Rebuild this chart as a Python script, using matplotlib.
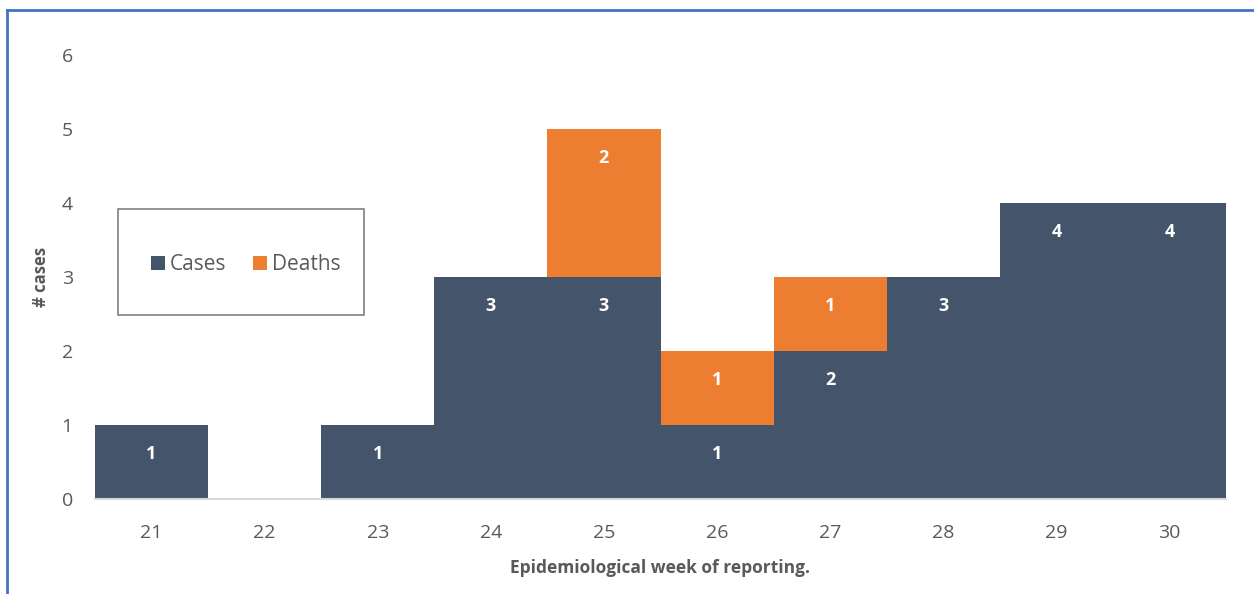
import matplotlib
matplotlib.use("Agg")
import matplotlib.pyplot as plt
from matplotlib.lines import Line2D
from matplotlib.patches import Rectangle

plt.rcParams['font.family'] = ['Open Sans', 'DejaVu Sans']

weeks = [21, 22, 23, 24, 25, 26, 27, 28, 29, 30]
cases = [1, 0, 1, 3, 3, 1, 2, 3, 4, 4]
deaths = [0, 0, 0, 0, 2, 1, 1, 0, 0, 0]
yticks = [0, 1, 2, 3, 4, 5, 6]

case_color = "#44546A"
death_color = "#ED7D31"
text_color = "#595959"

W, H = 1254, 594
fig = plt.figure(figsize=(W / 100, H / 100), dpi=100)
ax = fig.add_axes([95 / W, 1 - 499 / H, (1226 - 95) / W, (499 - 55) / H])

ax.bar(weeks, cases, width=1.0, color=case_color, edgecolor="none", label="Cases")
ax.bar(weeks, deaths, width=1.0, bottom=cases, color=death_color,
       edgecolor="none", label="Deaths")

def label(values, bottoms):
    for w, v, b in zip(weeks, values, bottoms):
        if v > 0:
            ax.annotate(str(v), (w, b + v), xytext=(0, -21), textcoords="offset points",
                        ha="center", va="center", color="white",
                        fontsize=13, fontweight="bold")

label(cases, [0] * len(cases))
label(deaths, cases)

ax.set_xlim(20.5, 30.5)
ax.set_ylim(0, 6)
ax.set_xticks(weeks)
ax.set_yticks(yticks)
ax.tick_params(axis="both", length=0, labelsize=14, colors=text_color)
ax.tick_params(axis="x", pad=18)
ax.tick_params(axis="y", pad=16)
for s in ["top", "right", "left"]:
    ax.spines[s].set_visible(False)
ax.spines["bottom"].set_color("#D9D9D9")
ax.spines["bottom"].set_linewidth(1.5)

ax.set_xlabel("Epidemiological week of reporting.", fontsize=12.5, fontweight="bold",
              color=text_color, labelpad=12)
ax.set_ylabel("# cases", fontsize=12, fontweight="bold", color=text_color, labelpad=8)

# legend inside a framed box
box = Rectangle(((118 - 95) / 1131, (499 - 315) / 444), (364 - 118) / 1131,
                (315 - 209) / 444, transform=ax.transAxes, facecolor="white",
                edgecolor="#7F7F7F", linewidth=1.2, zorder=3)
ax.add_patch(box)
leg = ax.legend(loc="center", bbox_to_anchor=((246 - 95) / 1131, (499 - 265) / 444),
                frameon=False, ncol=2, fontsize=15, handlelength=0.65, handleheight=0.65,
                handletextpad=0.25, columnspacing=1.3, labelcolor=text_color)
leg.set_zorder(4)

# outer frame
blue = "#4472C4"
fig.add_artist(Line2D([7 / W, 7 / W], [0, 1 - 10 / H], color=blue, linewidth=2))
fig.add_artist(Line2D([7 / W, 1], [1 - 10 / H, 1 - 10 / H], color=blue, linewidth=2))

fig.savefig("out.png", dpi=100, facecolor="white")
